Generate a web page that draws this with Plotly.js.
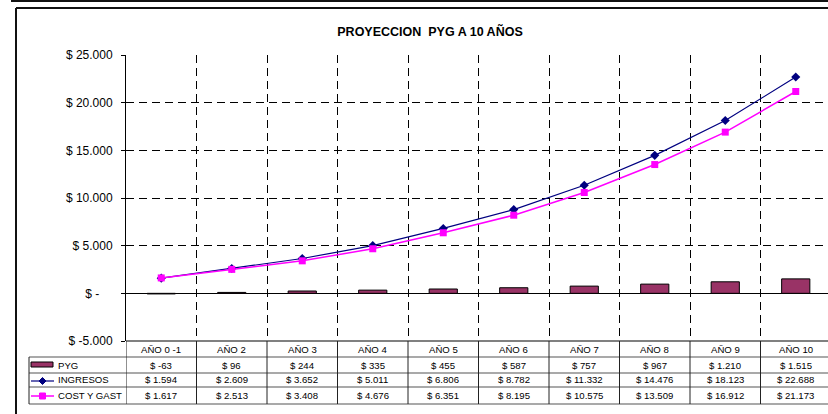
<!DOCTYPE html>
<html>
<head>
<meta charset="utf-8">
<script src="https://cdn.plot.ly/plotly-3.0.1.min.js"></script>
<style>
html,body{margin:0;padding:0;background:#fff;overflow:hidden;}
#chart{width:828px;height:414px;}
</style>
</head>
<body>
<div id="chart"></div>
<script>
// ---- data ----
const categories = ['AÑO 0 -1','AÑO 2','AÑO 3','AÑO 4','AÑO 5','AÑO 6','AÑO 7','AÑO 8','AÑO 9','AÑO 10'];
const pyg      = [-63, 96, 244, 335, 455, 587, 757, 967, 1210, 1515];
const ingresos = [1594, 2609, 3652, 5011, 6806, 8782, 11332, 14476, 18123, 22688];
const costos   = [1617, 2513, 3408, 4676, 6351, 8195, 10575, 13509, 16912, 21173];
const seriesNames = ['PYG', 'INGRESOS', 'COST Y GAST'];
const yTickVals = [-5000, 0, 5000, 10000, 15000, 20000, 25000];
const titleText = 'PROYECCION\u00a0 PYG A 10 AÑOS';

// ---- helpers ----
function money(v){
  const s = Math.abs(v).toString().replace(/\B(?=(\d{3})+(?!\d))/g, '.');
  return '$ ' + (v < 0 ? '-' : '') + s;
}
const yTickText = yTickVals.map(v => v === 0 ? '$ -\u00a0\u00a0\u00a0\u00a0' : money(v));

const W = 828, H = 414, L = 126, R = 828, T = 55, B = 341;
const px = x => (x - L) / (R - L);
const py = y => (B - y) / (B - T);
const FONT = 'Arial, "Liberation Sans", sans-serif';

const colBar = '#993366', colIng = '#000080', colCost = '#FF00FF';

const traces = [
  {type:'bar', x:categories, y:pyg, name:seriesNames[0], width:0.4,
   marker:{color:colBar, line:{color:'#000', width:1}}, hoverinfo:'skip'},
  {type:'scatter', mode:'lines+markers', x:categories, y:ingresos, name:seriesNames[1],
   line:{color:colIng, width:1.2}, marker:{symbol:'diamond', size:7, color:colIng}, cliponaxis:false},
  {type:'scatter', mode:'lines+markers', x:categories, y:costos, name:seriesNames[2],
   line:{color:colCost, width:1.5}, marker:{symbol:'square', size:7, color:colCost}, cliponaxis:false}
];

// ---- table rows / borders ----
const rowHeaderY = 349, rowY = [365, 380, 395.5];
const rowLines = [357, 373, 387, 404];
const shapes = [];
const annotations = [];

// outer frame
shapes.push({type:'line', xref:'paper', yref:'paper', x0:px(11), x1:px(828), y0:py(1), y1:py(1), line:{color:'#111', width:2}});
shapes.push({type:'line', xref:'paper', yref:'paper', x0:px(16), x1:px(828), y0:py(8), y1:py(8), line:{color:'#111', width:2}});
shapes.push({type:'line', xref:'paper', yref:'paper', x0:px(16), x1:px(16), y0:py(8), y1:py(414), line:{color:'#111', width:2}});

// table top (header)
shapes.push({type:'line', xref:'paper', yref:'paper', x0:0, x1:1, y0:py(341), y1:py(341), line:{color:'#808080', width:2}});
rowLines.forEach(y => shapes.push({type:'line', xref:'paper', yref:'paper', x0:px(29), x1:1, y0:py(y), y1:py(y), line:{color:'#555', width:1.2}}));
// vertical table lines
for (let i = 0; i <= categories.length; i++) {
  shapes.push({type:'line', xref:'x', yref:'paper', x0:i-0.5, x1:i-0.5, y0:py(341), y1:py(404), line:{color:'#222', width:1}});
}
shapes.push({type:'line', xref:'paper', yref:'paper', x0:px(29), x1:px(29), y0:py(357), y1:py(404), line:{color:'#222', width:1}});

// legend symbols
shapes.push({type:'rect', xref:'paper', yref:'paper', x0:px(31), x1:px(53), y0:py(362), y1:py(367), fillcolor:colBar, line:{color:'#000', width:1}});
shapes.push({type:'line', xref:'paper', yref:'paper', x0:px(31), x1:px(54), y0:py(381), y1:py(381), line:{color:colIng, width:1.2}});
{
  const cx = 42.5, cy = 381, r = 3.5;
  shapes.push({type:'path', xref:'paper', yref:'paper',
    path:`M ${px(cx)} ${py(cy-r)} L ${px(cx+r)} ${py(cy)} L ${px(cx)} ${py(cy+r)} L ${px(cx-r)} ${py(cy)} Z`,
    fillcolor:colIng, line:{color:colIng, width:1}});
}
shapes.push({type:'line', xref:'paper', yref:'paper', x0:px(31), x1:px(54), y0:py(396), y1:py(396), line:{color:colCost, width:1.5}});
shapes.push({type:'rect', xref:'paper', yref:'paper', x0:px(39.5), x1:px(45.5), y0:py(393), y1:py(399), fillcolor:colCost, line:{color:colCost, width:1}});

// legend labels
seriesNames.forEach((n, k) => annotations.push({xref:'paper', yref:'paper', x:px(56), y:py(rowY[k]), text:n,
  xanchor:'left', yanchor:'middle', showarrow:false, font:{family:FONT, size:9.6, color:'#000'}}));

// table values
const rows = [pyg, ingresos, costos];
categories.forEach((c, i) => {
  annotations.push({xref:'x', yref:'paper', x:i, y:py(rowHeaderY), text:c, showarrow:false,
    xanchor:'center', yanchor:'middle', font:{family:FONT, size:9.6, color:'#000'}});
  rows.forEach((arr, k) => annotations.push({xref:'x', yref:'paper', x:i, y:py(rowY[k]), text:money(arr[i]),
    showarrow:false, xanchor:'center', yanchor:'middle', font:{family:FONT, size:9.6, color:'#000'}}));
});

const layout = {
  width: W, height: H,
  margin: {l: L, r: W - R, t: T, b: H - B, pad: 0},
  paper_bgcolor: '#fff', plot_bgcolor: '#fff',
  showlegend: false,
  title: {text: '<b>' + titleText + '</b>', x: 430 / W, xref: 'container', xanchor: 'center',
          y: 1 - 32 / H, yref: 'container', yanchor: 'middle',
          font: {family: FONT, size: 12.5, color: '#000'}},
  xaxis: {type: 'category', categoryarray: categories, tickson: 'boundaries',
          range: [-0.5, -0.5 + (R - L) / 70.5],
          showgrid: true, gridcolor: '#000', gridwidth: 1, griddash: '8px,5px',
          showticklabels: false, ticks: '', showline: false, zeroline: false, fixedrange: true},
  yaxis: {range: [-5000, 25000], tickvals: yTickVals, ticktext: yTickText,
          showgrid: true, gridcolor: '#000', gridwidth: 1, griddash: '8px,5px',
          zeroline: true, zerolinecolor: '#000', zerolinewidth: 1,
          showline: true, linecolor: '#000', linewidth: 1,
          ticks: 'outside', ticklen: 4, tickcolor: '#000', tickwidth: 1, ticklabelstandoff: 6,
          tickfont: {family: FONT, size: 12, color: '#000'}, fixedrange: true},
  shapes: shapes,
  annotations: annotations,
  bargap: 0.6
};

Plotly.newPlot('chart', traces, layout, {staticPlot: true, displayModeBar: false});
</script>
</body>
</html>
